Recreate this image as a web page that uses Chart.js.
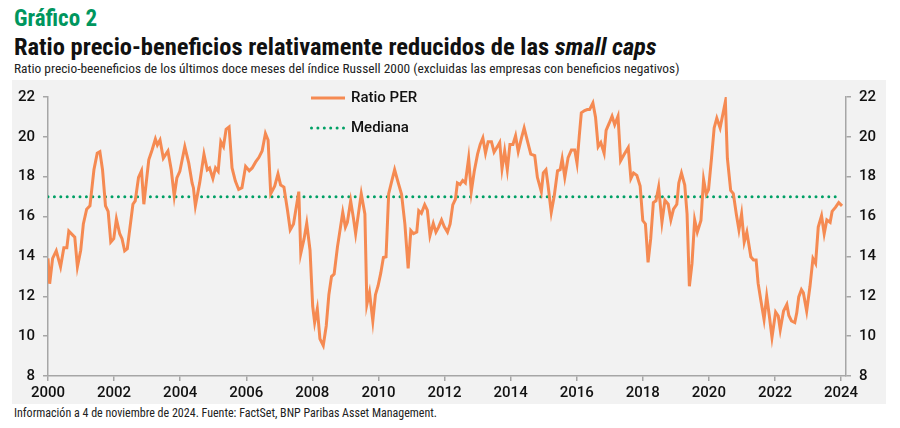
<!DOCTYPE html>
<html>
<head>
<meta charset="utf-8">
<script src="https://cdn.jsdelivr.net/npm/chart.js@4.4.0/dist/chart.umd.min.js"></script>
<style>
  body { margin: 0; width: 900px; height: 428px; background: #fff; position: relative; overflow: hidden; }
  .txt { position: absolute; left: 14px; white-space: nowrap; font-family: "Liberation Sans Narrow", "Roboto Condensed", Roboto, sans-serif; color: #111; }
  #kicker { top: 5px; font-size: 23px; font-weight: bold; color: #00965e; }
  #title { top: 32px; font-size: 24.5px; font-weight: bold; }
  #subtitle { top: 61px; font-size: 13.4px; color: #222; }
  #source { top: 406px; font-size: 12px; color: #222; }
  #panel { position: absolute; left: 12px; top: 80px; width: 874px; height: 324px; background: #f2f2f2; }
</style>
</head>
<body>
<div class="txt" id="kicker">Gráfico 2</div>
<div class="txt" id="title">Ratio precio-beneficios relativamente reducidos de las <i>small caps</i></div>
<div class="txt" id="subtitle">Ratio precio-beeneficios de los últimos doce meses del índice Russell 2000 (excluidas las empresas con beneficios negativos)</div>
<div id="panel"><canvas id="myChart"></canvas></div>
<div class="txt" id="source">Información a 4 de noviembre de 2024. Fuente: FactSet, BNP Paribas Asset Management.</div>

<script>
// fechas (año decimal)
const dates = [
  2000.00, 2000.05, 2000.14, 2000.25, 2000.38, 2000.48, 2000.57, 2000.63, 2000.81, 2000.89, 2000.99,
  2001.07, 2001.17, 2001.27, 2001.39, 2001.49, 2001.57, 2001.65, 2001.74, 2001.82, 2001.90, 2001.99,
  2002.07, 2002.17, 2002.24, 2002.32, 2002.40, 2002.57, 2002.64, 2002.74, 2002.83, 2002.90,
  2003.05, 2003.15, 2003.25, 2003.31, 2003.39, 2003.49, 2003.63, 2003.73, 2003.82, 2003.90, 2003.99,
  2004.14, 2004.26, 2004.36, 2004.40, 2004.46, 2004.59, 2004.72, 2004.82, 2004.89, 2004.99,
  2005.07, 2005.15, 2005.23, 2005.31, 2005.39, 2005.48, 2005.57, 2005.67, 2005.77, 2005.87, 2005.98,
  2006.09, 2006.18, 2006.28, 2006.38, 2006.48, 2006.58, 2006.66, 2006.74, 2006.86, 2006.96,
  2007.04, 2007.14, 2007.25, 2007.33, 2007.43, 2007.52, 2007.59, 2007.65, 2007.75, 2007.83, 2007.93,
  2008.01, 2008.07, 2008.15, 2008.23, 2008.33, 2008.42, 2008.50, 2008.58, 2008.66, 2008.76, 2008.92,
  2009.00, 2009.06, 2009.16, 2009.24, 2009.31, 2009.40, 2009.48, 2009.59, 2009.65, 2009.73, 2009.83, 2009.91, 2009.99,
  2010.07, 2010.15, 2010.23, 2010.31, 2010.39, 2010.49, 2010.60, 2010.70, 2010.80, 2010.90, 2010.98,
  2011.06, 2011.16, 2011.22, 2011.30, 2011.40, 2011.48, 2011.56, 2011.66, 2011.74, 2011.82, 2011.91, 2011.99,
  2012.09, 2012.17, 2012.25, 2012.33, 2012.39, 2012.47, 2012.55, 2012.63, 2012.73, 2012.81, 2012.90,
  2013.00, 2013.08, 2013.16, 2013.24, 2013.32, 2013.42, 2013.50, 2013.60, 2013.67, 2013.74, 2013.82, 2013.90, 2013.98,
  2014.07, 2014.15, 2014.23, 2014.33, 2014.41, 2014.51, 2014.61, 2014.73, 2014.81, 2014.93, 2014.99,
  2015.07, 2015.13, 2015.23, 2015.32, 2015.42, 2015.50, 2015.56, 2015.64, 2015.74, 2015.84, 2015.94,
  2016.01, 2016.08, 2016.14, 2016.24, 2016.32, 2016.39, 2016.49, 2016.57, 2016.65, 2016.73, 2016.83, 2016.89, 2016.99,
  2017.07, 2017.15, 2017.25, 2017.33, 2017.43, 2017.56, 2017.64, 2017.72, 2017.82, 2017.92,
  2018.00, 2018.08, 2018.16, 2018.24, 2018.32, 2018.40, 2018.48, 2018.58, 2018.67, 2018.77, 2018.85, 2018.93,
  2019.03, 2019.09, 2019.17, 2019.27, 2019.34, 2019.41, 2019.49, 2019.57, 2019.65, 2019.76, 2019.84, 2019.92, 2019.99,
  2020.08, 2020.16, 2020.24, 2020.34, 2020.42, 2020.50, 2020.56, 2020.66, 2020.74, 2020.83, 2020.91, 2020.99,
  2021.07, 2021.15, 2021.27, 2021.35, 2021.43, 2021.49, 2021.57, 2021.67, 2021.75, 2021.83, 2021.91,
  2022.02, 2022.10, 2022.16, 2022.26, 2022.36, 2022.42, 2022.50, 2022.60, 2022.66, 2022.72, 2022.80, 2022.86, 2022.96,
  2023.06, 2023.15, 2023.23, 2023.31, 2023.41, 2023.49, 2023.57, 2023.67, 2023.73, 2023.83, 2023.93, 2024.03
];

// ratio PER en cada fecha
const perValues = [
  13.90, 12.63, 13.90, 14.28, 13.48, 14.44, 14.44, 15.27, 14.97, 13.48, 14.31,
  15.63, 16.37, 16.54, 18.35, 19.18, 19.26, 18.35, 16.54, 16.26, 14.72, 14.89,
  15.88, 15.14, 14.89, 14.28, 14.39, 16.62, 16.79, 17.97, 18.30, 16.62,
  18.85, 19.34, 19.89, 19.59, 19.84, 18.93, 19.29, 18.35, 17.03, 17.94, 18.27,
  19.51, 18.68, 17.69, 17.45, 16.54, 17.69, 19.13, 18.35, 18.44, 17.91,
  18.44, 18.27, 19.76, 19.51, 20.38, 20.50, 18.44, 17.78, 17.36, 17.45, 18.52,
  18.30, 18.44, 18.73, 18.96, 19.29, 20.17, 19.84, 17.15, 17.53, 18.14,
  17.58, 17.48, 16.29, 15.33, 15.63, 16.54, 17.25, 14.15, 14.89, 15.66, 14.31,
  11.51, 10.68, 11.37, 9.86, 9.53, 10.51, 12.08, 12.99, 13.12, 14.48, 16.21,
  15.47, 15.71, 16.79, 15.96, 15.14, 16.21, 17.15, 16.13, 11.59, 12.20, 10.76, 12.08, 12.53,
  13.16, 13.95, 13.98, 17.15, 17.69, 18.35, 17.69, 17.12, 15.63, 13.40, 15.30,
  15.14, 15.22, 16.29, 16.16, 16.59, 16.32, 15.05, 15.66, 15.22, 15.47, 15.83, 15.50,
  15.22, 15.63, 16.59, 16.87, 17.69, 17.61, 17.81, 17.69, 18.93, 17.25, 18.27,
  19.13, 19.62, 19.95, 19.18, 19.76, 19.76, 19.23, 19.51, 19.72, 18.40, 19.29, 18.35, 19.62,
  19.62, 20.05, 19.26, 19.95, 20.45, 19.79, 19.13, 19.06, 17.97, 17.25, 18.19,
  18.35, 17.61, 16.21, 17.03, 18.30, 18.35, 18.90, 17.97, 18.96, 19.34, 19.34,
  18.68, 20.09, 21.21, 21.32, 21.37, 21.37, 21.70, 20.99, 19.51, 19.72, 19.18, 20.33, 20.71,
  21.04, 20.61, 21.04, 18.80, 19.10, 19.46, 17.91, 18.19, 18.07, 17.53,
  15.80, 15.63, 13.70, 14.89, 16.70, 16.79, 17.48, 15.71, 16.82, 16.62, 15.83, 16.37,
  16.62, 17.69, 18.19, 17.58, 16.13, 12.50, 13.65, 15.83, 15.22, 15.80, 17.86, 17.12, 17.36,
  18.93, 20.45, 20.94, 20.45, 21.11, 21.77, 18.93, 17.31, 17.15, 16.13, 15.33, 16.13,
  14.72, 15.22, 13.98, 13.82, 13.82, 12.66, 11.83, 10.84, 12.00, 11.01, 9.94,
  11.21, 11.01, 10.32, 11.26, 11.59, 11.04, 10.76, 10.68, 11.17, 11.97, 12.33, 12.17, 11.26,
  12.50, 13.90, 13.65, 15.47, 16.04, 15.14, 15.83, 15.71, 16.26, 16.46, 16.70, 16.54
];

// mediana del periodo
const medianDates = [2000, 2024];
const medianValues = [17, 17];

const yMin = 8, yMax = 22;
const xMin = 2000, xMax = 2024.15;

const seriesLabels = ['Ratio PER', 'Mediana'];
const ORANGE = '#f58a52';
const GREEN = '#00a065';

const tickFont = { family: 'Roboto, sans-serif', size: 15, weight: '500' };

//Legend drawn inside the plot, top-centre
const legendPlugin = {
  id: 'insideLegend',
  afterDraw(chart) {
    const ctx = chart.ctx;
    ctx.save();
    ctx.font = '500 15px Roboto, sans-serif';
    ctx.fillStyle = '#111';
    ctx.textBaseline = 'middle';
    //Ratio PER line sample
    ctx.strokeStyle = ORANGE;
    ctx.lineWidth = 3;
    ctx.beginPath();
    ctx.moveTo(299, 18);
    ctx.lineTo(333, 18);
    ctx.stroke();
    ctx.fillText(seriesLabels[0], 339, 18);
    //Mediana dotted sample
    ctx.fillStyle = GREEN;
    for (let i = 0; i < 6; i++) {
      ctx.beginPath();
      ctx.arc(299.5 + i * 6.4, 48, 1.5, 0, Math.PI * 2);
      ctx.fill();
    }
    ctx.fillStyle = '#111';
    ctx.fillText(seriesLabels[1], 339, 48);
    ctx.restore();
  }
};

const yAxis = (position) => ({
  type: 'linear',
  position: position,
  display: true,
  min: yMin,
  max: yMax,
  afterFit: (scale) => { scale.width = position === 'left' ? 36 : 40; },
  border: { display: true, color: '#a6a6a6', width: 1.5 },
  grid: { drawOnChartArea: false, drawTicks: true, tickLength: 5, color: '#a6a6a6', lineWidth: 1.5 },
  ticks: {
    stepSize: 1,
    padding: 8,
    color: '#111',
    font: tickFont,
    callback: (v) => (v % 2 === 0 ? String(v) : '')
  }
});

const chartData = {
  datasets: [
    {
      label: seriesLabels[0],
      data: dates.map((d, i) => ({ x: d, y: perValues[i] })),
      borderColor: ORANGE,
      borderWidth: 3,
      pointRadius: 0,
      tension: 0,
      yAxisID: 'y',
      order: 1
    },
    {
      label: seriesLabels[1],
      data: medianDates.map((d, i) => ({ x: d, y: medianValues[i] })),
      borderColor: GREEN,
      borderWidth: 3,
      borderDash: [0, 6.4],
      borderCapStyle: 'round',
      pointRadius: 0,
      yAxisID: 'y',
      order: 2
    }
  ]
};

const chartOptions = {
  responsive: true,
  maintainAspectRatio: false,
  animation: false,
  layout: { padding: { top: 13, left: 0, right: 0, bottom: 0 } },
  plugins: { legend: { display: false }, tooltip: { enabled: false } },
  scales: {
    x: {
      type: 'linear',
      min: xMin,
      max: xMax,
      afterFit: (scale) => { scale.height = 28; },
      border: { display: true, color: '#a6a6a6', width: 1.5 },
      grid: { drawOnChartArea: false, drawTicks: true, tickLength: 5, color: '#a6a6a6', lineWidth: 1.5 },
      ticks: {
        stepSize: 2,
        includeBounds: false,
        padding: 3,
        color: '#111',
        font: tickFont,
        maxRotation: 0,
        callback: (v) => String(v)
      }
    },
    y: yAxis('left'),
    y2: yAxis('right')
  }
};

const ctx = document.getElementById('myChart').getContext('2d');
new Chart(ctx, {
  type: 'line',
  data: chartData,
  options: chartOptions,
  plugins: [legendPlugin]
});
</script>
</body>
</html>
